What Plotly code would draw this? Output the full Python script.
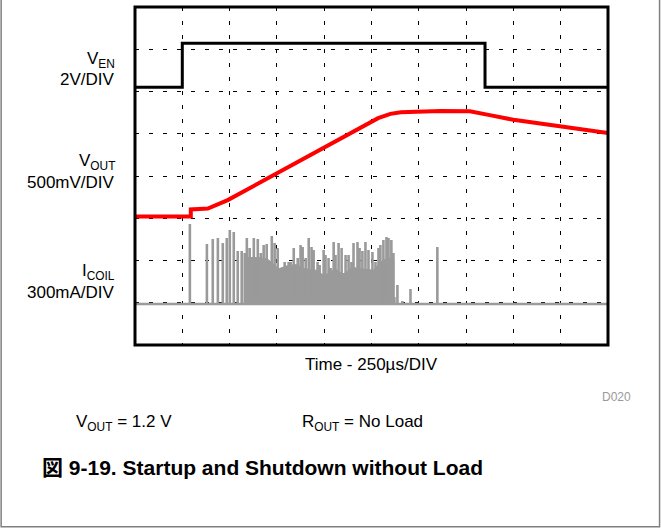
import plotly.graph_objects as go

# scope settings: 250 us/div horizontally, 10 x 8 divisions
time_per_div = 250
n_xdiv = 10
n_ydiv = 8

# V_EN, 2 V/DIV
ven_t = [0, 250, 250, 1850, 1850, 2500]
ven_v = [0, 0, 2.08, 2.08, 0, 0]

# V_OUT, 500 mV/DIV
vout_t = [0, 295, 295, 385, 490, 770, 1035, 1210, 1285, 1350, 1405, 1615, 1770, 1875, 2000, 2245, 2500]
vout_v = [0, 0, 0.085, 0.095, 0.195, 0.54, 0.87, 1.085, 1.165, 1.215, 1.235, 1.25, 1.245, 1.2, 1.145, 1.07, 0.99]

# I_COIL switching pulses, 300 mA/DIV (time in us, peak in mA)
icoil_t = [290, 380, 411, 438, 464, 485, 501, 522, 543, 564, 580, 591, 606, 628, 649, 665,
           680, 696, 723, 738, 754, 770, 791, 812, 823, 833, 839, 860, 875, 886, 902, 918,
           933, 944, 965, 976, 992, 997, 1007, 1023, 1034, 1050, 1060, 1076, 1092, 1102, 1113,
           1129, 1144, 1155, 1176, 1187, 1202, 1218, 1234, 1255, 1271, 1287, 1297, 1313, 1329,
           1340, 1355, 1366, 1371, 1387, 1413, 1456, 1598]
icoil_ma = [568, 426, 462, 469, 433, 469, 525, 511, 376, 376, 362, 469, 398, 469, 462, 362,
            419, 426, 483, 433, 398, 256, 298, 298, 298, 263, 398, 327, 419, 405, 327, 469,
            405, 383, 298, 277, 192, 383, 348, 327, 256, 440, 348, 433, 398, 220, 348,
            348, 298, 433, 440, 398, 376, 440, 383, 369, 298, 398, 419, 454, 476,
            469, 454, 362, 50, 135, 21, 107, 405]

# solid body of the dense switching burst (lower envelope, mA)
burst_t = [596, 650, 700, 760, 800, 850, 900, 960, 1000, 1060, 1100, 1150, 1200, 1260, 1300, 1340, 1368]
burst_ma = [330, 330, 320, 250, 270, 280, 250, 240, 200, 250, 210, 260, 250, 240, 300, 330, 300]

# channel positions on screen (divisions from bottom) and scales
VEN_POS, VEN_SCALE = 6.1, 2.0
VOUT_POS, VOUT_SCALE = 3.04, 0.5
ICOIL_POS, ICOIL_SCALE = 0.97, 300.0

t_end = time_per_div * n_xdiv
coil_color = '#9a9a9a'

# build the pulse train: baseline -> peak -> baseline for each pulse
coil_x, coil_y = [0], [0]
for t, a in zip(icoil_t, icoil_ma):
    coil_x += [t, t, t]
    coil_y += [0, a, 0]
coil_x.append(t_end)
coil_y.append(0)

fig = go.Figure()

# burst body polygon
body_x = burst_t + burst_t[::-1]
body_y = burst_ma + [0] * len(burst_t)
fig.add_trace(go.Scatter(
    x=body_x, y=[ICOIL_POS + v / ICOIL_SCALE for v in body_y],
    mode='lines', fill='toself', fillcolor=coil_color,
    line=dict(color=coil_color, width=1), hoverinfo='skip'
))
fig.add_trace(go.Scatter(
    x=coil_x, y=[ICOIL_POS + v / ICOIL_SCALE for v in coil_y],
    mode='lines', line=dict(color=coil_color, width=2.6), hoverinfo='skip'
))
fig.add_trace(go.Scatter(
    x=vout_t, y=[VOUT_POS + v / VOUT_SCALE for v in vout_v],
    mode='lines', line=dict(color='#ff0000', width=4), hoverinfo='skip'
))
fig.add_trace(go.Scatter(
    x=ven_t, y=[VEN_POS + v / VEN_SCALE for v in ven_v],
    mode='lines', line=dict(color='#000000', width=3), hoverinfo='skip'
))

grid = dict(showgrid=True, gridcolor='#000000', gridwidth=1, griddash='4px,10px',
            zeroline=False, showticklabels=False, ticks='', showline=False, fixedrange=True)
fig.update_xaxes(range=[0, t_end], dtick=time_per_div, **grid)
fig.update_yaxes(range=[0, n_ydiv], dtick=1, **grid)

font = 'Liberation Sans, Arial, Noto Sans CJK JP, sans-serif'

fig.update_layout(
    width=661, height=529,
    margin=dict(l=135, r=52.5, t=7, b=184),
    paper_bgcolor='white', plot_bgcolor='white',
    showlegend=False,
    font=dict(family=font, size=17, color='#000000'),
    shapes=[
        # scope frame
        dict(type='rect', xref='paper', yref='paper', x0=0, x1=1, y0=0, y1=1,
             line=dict(color='#000000', width=3), layer='above'),
        # outer figure border
        dict(type='rect', xref='paper', yref='paper', x0=-0.283, x1=1.109, y0=-0.538, y1=1.03,
             line=dict(color='#808080', width=1.5), layer='above'),
    ],
)

labels = [
    ('V<sub>EN</sub>', 0.842),
    ('2V/DIV', 0.786),
    ('V<sub>OUT</sub>', 0.542),
    ('500mV/DIV', 0.482),
    ('I<sub>COIL</sub>', 0.217),
    ('300mA/DIV', 0.155),
]
for text, y in labels:
    fig.add_annotation(text=text, xref='paper', yref='paper', x=-0.038, y=y,
                       xanchor='right', yanchor='middle', showarrow=False)

fig.add_annotation(text='Time - 250µs/DIV', xref='paper', yref='paper', x=0.5, y=-0.059,
                   xanchor='center', yanchor='middle', showarrow=False, font=dict(size=17))
fig.add_annotation(text='D020', xref='paper', yref='paper', x=1.052, y=-0.154,
                   xanchor='right', yanchor='middle', showarrow=False,
                   font=dict(size=12, color='#999999'))
fig.add_annotation(text='V<sub>OUT</sub> = 1.2 V', xref='paper', yref='paper', x=-0.129, y=-0.231,
                   xanchor='left', yanchor='middle', showarrow=False)
fig.add_annotation(text='R<sub>OUT</sub> = No Load', xref='paper', yref='paper', x=0.349, y=-0.231,
                   xanchor='left', yanchor='middle', showarrow=False)
fig.add_annotation(text='<b>図 9-19. Startup and Shutdown without Load</b>', xref='paper', yref='paper',
                   x=0.27, y=-0.361, xanchor='center', yanchor='middle', showarrow=False,
                   font=dict(size=21))

fig.write_html("out.html", config={'displayModeBar': False},
               post_script="document.body.style.margin='0';")
